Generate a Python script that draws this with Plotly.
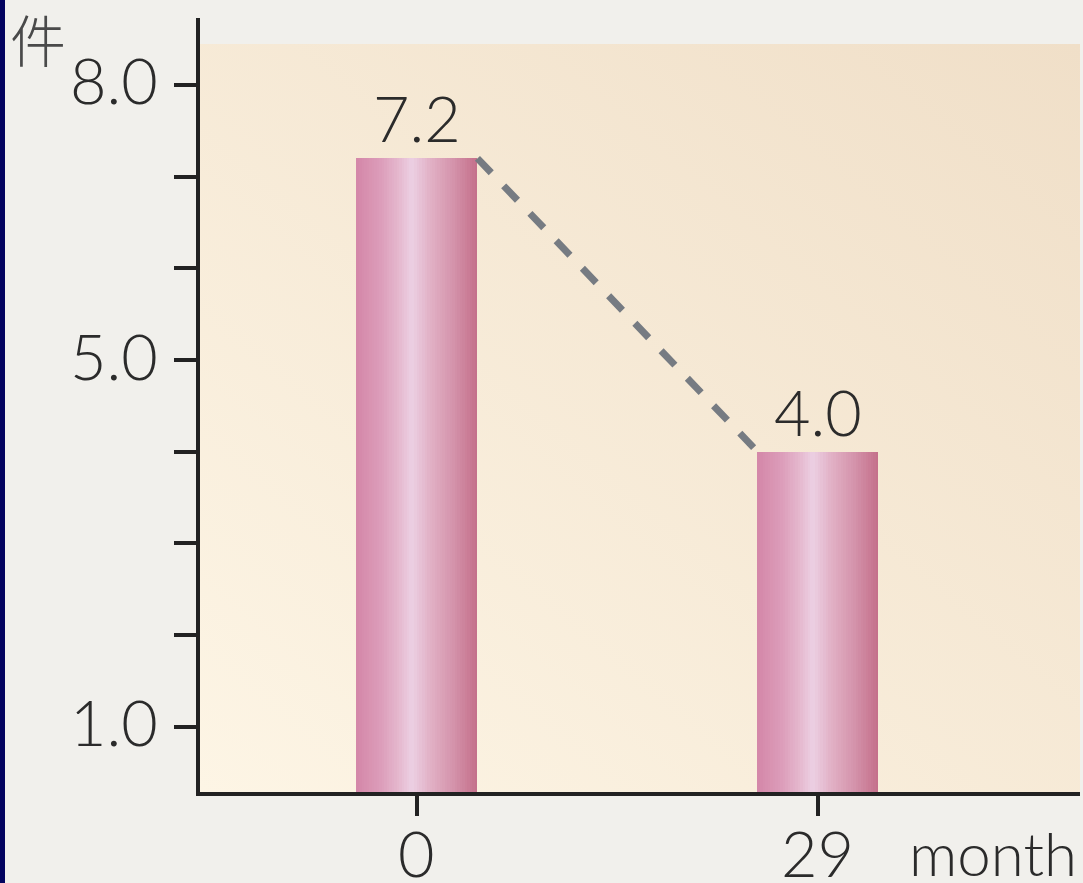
import base64
import plotly.graph_objects as go

# Data
months = [0, 29]
counts = [7.2, 4.0]
month_labels = ["0", "29"]
y_tick_vals = [1, 2, 3, 4, 5, 6, 7, 8]
y_label_vals = [1.0, 5.0, 8.0]

# Layout geometry (pixels)
W, H = 1083, 883
ML, MR, MT, MB = 200, 3, 44, 91
PW, PH = W - ML - MR, H - MT - MB

X_RANGE = [-15.69, 47.95]
Y_RANGE = [0.288, 8.447]
BAR_W = 8.75

FONT = "Lato"
WEIGHT = 300
NUM_SIZE = 63
INK = "#2b2b2b"
AXIS = "#222222"

# Horizontal shading of the bars: (position across bar, colour)
bar_stops = [
    (0.00, (212, 135, 168)),
    (0.20, (220, 157, 186)),
    (0.35, (229, 184, 206)),
    (0.46, (236, 208, 227)),
    (0.60, (226, 178, 199)),
    (0.80, (212, 147, 171)),
    (1.00, (196, 111, 138)),
]


def shade(t):
    for (t0, c0), (t1, c1) in zip(bar_stops[:-1], bar_stops[1:]):
        if t0 <= t <= t1:
            f = (t - t0) / (t1 - t0) if t1 > t0 else 0
            r, g, b = (round(a + (b_ - a) * f) for a, b_ in zip(c0, c1))
            return f"rgb({r},{g},{b})"
    r, g, b = bar_stops[-1][1]
    return f"rgb({r},{g},{b})"


fig = go.Figure()

N = 48
step = BAR_W / N
for i in range(N):
    t = (i + 0.5) / N
    width = step * (1.6 if i < N - 1 else 1.0)
    fig.add_trace(go.Bar(
        x=months, y=counts,
        width=[width] * len(months),
        offset=-BAR_W / 2 + i * step,
        marker=dict(color=shade(t), line=dict(width=0)),
        hoverinfo="skip", showlegend=False,
    ))

# Dashed connector between the tops of the two bars
fig.add_trace(go.Scatter(
    x=[months[0] + BAR_W / 2, months[1] - BAR_W / 2],
    y=[counts[0], counts[1]],
    mode="lines",
    line=dict(color="#767b82", width=7, dash="20px,18px"),
    hoverinfo="skip", showlegend=False,
))

num_font = dict(family=FONT, size=NUM_SIZE, color=INK, weight=WEIGHT)

# Value labels above the bars
for m, v in zip(months, counts):
    fig.add_annotation(
        x=m, y=v, text=f"{v:.1f}", showarrow=False,
        xanchor="center", yanchor="bottom", yshift=1,
        font=num_font,
    )

# y tick labels (every unit is ticked, three are labelled)
for v in y_label_vals:
    fig.add_annotation(
        xref="paper", yref="y", x=0, y=v, text=f"{v:.1f}",
        showarrow=False, xanchor="right", yanchor="middle",
        xshift=-40, yshift=5, font=num_font,
    )

# x tick labels
for m, lab in zip(months, month_labels):
    fig.add_annotation(
        xref="x", yref="paper", x=m, y=0, text=lab,
        showarrow=False, xanchor="center", yanchor="middle",
        yshift=-60, font=num_font,
    )

# Unit labels
fig.add_annotation(
    xref="paper", yref="paper",
    x=(38 - ML) / PW, y=(H - MB - 38) / PH,
    text="件", showarrow=False, xanchor="center", yanchor="middle",
    font=dict(family="Noto Sans CJK JP", size=56, color="#4a4a4a", weight=300),
)
fig.add_annotation(
    xref="paper", yref="paper",
    x=(993 - ML) / PW, y=(H - MB - 853) / PH,
    text="month", showarrow=False, xanchor="center", yanchor="middle",
    font=dict(family=FONT, size=60, color=INK, weight=WEIGHT),
)

# Plot-area background: diagonal cream gradient
svg = (
    '<svg xmlns="http://www.w3.org/2000/svg" width="100" height="100" '
    'preserveAspectRatio="none" viewBox="0 0 100 100">'
    '<defs><linearGradient id="g" x1="0" y1="1" x2="1" y2="0">'
    '<stop offset="0" stop-color="#fdf5e5"/>'
    '<stop offset="1" stop-color="#f0dfc8"/>'
    '</linearGradient></defs>'
    '<rect width="100" height="100" fill="url(#g)"/></svg>'
)
bg_uri = "data:image/svg+xml;base64," + base64.b64encode(svg.encode()).decode()

fig.update_layout(
    width=W, height=H,
    margin=dict(l=ML, r=MR, t=MT, b=MB, pad=0, autoexpand=False),
    paper_bgcolor="#f1f0ec",
    plot_bgcolor="rgba(0,0,0,0)",
    barmode="overlay",
    bargap=0,
    showlegend=False,
    images=[dict(
        source=bg_uri, xref="paper", yref="paper",
        x=0, y=1, sizex=1, sizey=1,
        xanchor="left", yanchor="top",
        sizing="stretch", layer="below",
    )],
    shapes=[
        # y axis line continues a little above the plot area
        dict(type="line", xref="paper", yref="paper",
             x0=-2 / PW, x1=-2 / PW, y0=1, y1=1 + 26 / PH,
             line=dict(color=AXIS, width=4)),
        # dark strip on the left edge
        dict(type="rect", xref="paper", yref="paper",
             x0=-ML / PW, x1=(5 - ML) / PW,
             y0=-(MB + 2) / PH, y1=1 + (MT + 2) / PH,
             fillcolor="#03035f", line=dict(width=0), layer="above"),
    ],
)

fig.update_xaxes(
    range=X_RANGE, tickmode="array", tickvals=months,
    ticks="outside", ticklen=20, tickwidth=4, tickcolor=AXIS,
    showticklabels=False,
    showline=True, linewidth=4, linecolor=AXIS,
    showgrid=False, zeroline=False, fixedrange=True, automargin=False,
)
fig.update_yaxes(
    range=Y_RANGE, tickmode="array", tickvals=y_tick_vals,
    ticks="outside", ticklen=22, tickwidth=4, tickcolor=AXIS,
    showticklabels=False,
    showline=True, linewidth=4, linecolor=AXIS,
    showgrid=False, zeroline=False, fixedrange=True, automargin=False,
)

fig.write_html("out.html", config={"displayModeBar": False})
